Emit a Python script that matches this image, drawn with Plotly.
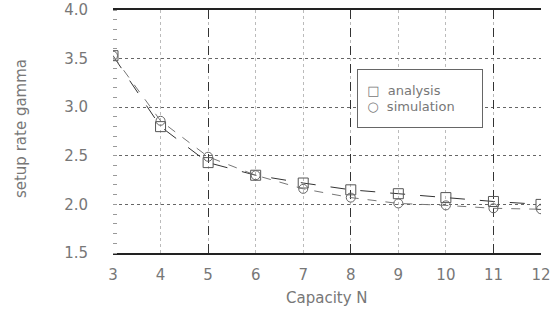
import plotly.graph_objects as go

capacity = [3, 4, 5, 6, 7, 8, 9, 10, 11, 12]
analysis = [3.53, 2.80, 2.43, 2.30, 2.22, 2.15, 2.11, 2.07, 2.03, 2.00]
simulation = [3.53, 2.86, 2.49, 2.30, 2.16, 2.07, 2.01, 1.99, 1.96, 1.95]
x_ticks = [3, 4, 5, 6, 7, 8, 9, 10, 11, 12]
y_ticks = [1.5, 2.0, 2.5, 3.0, 3.5, 4.0]
y_tick_text = ["1.5", "2.0", "2.5", "3.0", "3.5", "4.0"]
major_x_grid = [5, 8, 11]

font_family = "DejaVu Sans"
txt = "#777777"

fig = go.Figure()
fig.add_trace(go.Scatter(
    x=capacity, y=analysis, mode="lines+markers", name="analysis",
    line=dict(color="#333333", width=1, dash="longdash"),
    marker=dict(symbol="square-open", size=10, color="#555555", line=dict(width=1)),
))
fig.add_trace(go.Scatter(
    x=capacity, y=simulation, mode="lines+markers", name="simulation",
    line=dict(color="#777777", width=1, dash="dash"),
    marker=dict(symbol="circle-open", size=9, color="#666666", line=dict(width=1)),
))
fig.add_trace(go.Scatter(x=[capacity[0], capacity[-1]], y=[y_ticks[0], y_ticks[0]],
                         xaxis="x2", mode="none", showlegend=False, hoverinfo="skip"))

fig.update_layout(
    width=556, height=310,
    margin=dict(l=113, r=15, t=10, b=57, autoexpand=False),
    paper_bgcolor="white", plot_bgcolor="white",
    showlegend=False,
    font=dict(family=font_family, size=14, color=txt),
    xaxis=dict(
        range=[3, 12], tickvals=x_ticks, ticktext=[str(v) for v in x_ticks],
        showgrid=True, gridcolor="#bbbbbb", griddash="dot", gridwidth=1,
        showline=True, linecolor="#222222", linewidth=1.5, mirror=True,
        ticks="", zeroline=False, ticklabelstandoff=7, automargin=False,
        ticklabeloverflow="allow",
        tickfont=dict(size=15, color=txt),
    ),
    xaxis2=dict(
        overlaying="x", range=[3, 12], tickvals=major_x_grid, showticklabels=False,
        showgrid=True, gridcolor="#333333", griddash="dash", gridwidth=1,
        showline=False, zeroline=False, ticks="", automargin=False,
    ),
    yaxis=dict(
        range=[1.5, 4.0], tickvals=y_ticks, ticktext=y_tick_text,
        showgrid=True, gridcolor="#666666", griddash="dot", gridwidth=1,
        showline=False, mirror="ticks", ticks="", zeroline=False, automargin=False,
        minor=dict(dtick=0.1, ticks="inside", ticklen=4, tickcolor="#999999", showgrid=False),
        ticklabelstandoff=24, ticklabeloverflow="allow",
        tickfont=dict(size=15, color=txt),
    ),
    annotations=[
        dict(
            xref="paper", yref="paper", x=0.570, y=0.757, xanchor="left", yanchor="top",
            text="&nbsp;&nbsp;□  analysis<br>&nbsp;&nbsp;○  simulation", showarrow=False,
            align="left", width=122, height=55, bgcolor="white",
            bordercolor="#666666", borderwidth=1,
            font=dict(size=13, color="#777777"),
        ),
        dict(
            xref="paper", yref="paper", x=0.5, y=0, xanchor="center", yanchor="middle",
            yshift=-45, text="Capacity N", showarrow=False,
            font=dict(size=15, color=txt),
        ),
        dict(
            xref="paper", yref="paper", x=0, y=0.51, xanchor="center", yanchor="middle",
            xshift=-92, textangle=-90, text="setup rate gamma", showarrow=False,
            font=dict(size=15, color=txt),
        ),
    ],
)

fig.write_html("out.html", config={"displayModeBar": False},
               post_script="document.body.style.margin='0';")
